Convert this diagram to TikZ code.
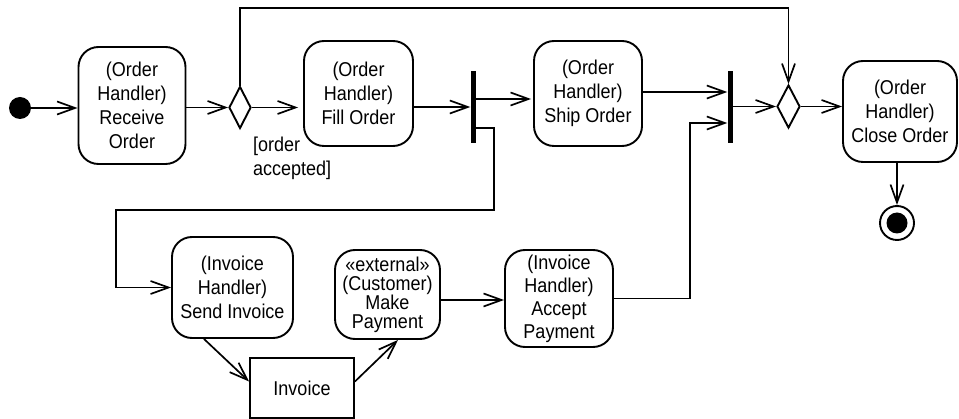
\documentclass[tikz,border=0pt]{standalone}
\usepackage{fontspec}
\setmainfont[FakeStretch=0.9]{Liberation Sans}
\usetikzlibrary{arrows.meta,shapes.geometric}
\begin{document}
\begin{tikzpicture}[x=1pt,y=-1pt,
  act/.style={draw,rounded corners=20pt,line width=1.9pt,inner sep=0pt,align=center,
              font=\fontsize{20}{24}\selectfont},
  objbox/.style={draw,line width=1.9pt,inner sep=0pt,font=\fontsize{20}{24}\selectfont},
  bar/.style={fill,inner sep=0pt,minimum width=5pt,minimum height=72pt},
  decision/.style={diamond,draw,line width=1.9pt,inner sep=0pt,minimum width=22pt,minimum height=42pt},
  flow/.style={line width=1.7pt,-{Straight Barb[length=18pt,width=13pt]}},
  guard/.style={inner sep=0pt,align=left,font=\fontsize{20}{24}\selectfont},
]
\useasboundingbox (0,0) rectangle (959,419);

% order handling row
\node[circle,fill,minimum size=22pt,inner sep=0pt] (init) at (20,108) {};
\node[act,minimum width=107pt,minimum height=117pt] (recv) at (132,105.5) {(Order\\Handler)\\Receive\\Order};
\node[decision] (d1) at (240,107.5) {};
\node[act,minimum width=109pt,minimum height=105pt] (fill) at (358.5,93.5) {(Order\\Handler)\\Fill Order};
\node[bar] (fork) at (473,107) {};
\node[act,minimum width=108pt,minimum height=105pt] (ship) at (588,93.5) {(Order\\Handler)\\Ship Order};
\node[bar] (join) at (730,107) {};
\node[decision,minimum width=23pt,minimum height=43pt] (d2) at (788.5,106.5) {};
\node[act,minimum width=114pt,minimum height=101pt] (close) at (900,111.5) {(Order\\Handler)\\Close Order};
\node[circle,draw,line width=1.9pt,minimum size=34pt,inner sep=0pt] (final) at (897,223) {};
\node[circle,fill,minimum size=21pt,inner sep=0pt] at (final) {};

\node[guard,anchor=north west] (acc) at (253,137) {[order\\accepted]};

% invoice handling row
\node[act,minimum width=121pt,minimum height=101pt] (send) at (232.5,287.5) {(Invoice\\Handler)\\Send Invoice};
\node[act,minimum width=105pt,minimum height=89pt,font=\fontsize{20}{19}\selectfont] (pay) at (387.5,294.5) {«external»\\(Customer)\\Make\\Payment};
\node[objbox,minimum width=104pt,minimum height=60pt] (inv) at (302,388) {Invoice};
\node[act,minimum width=108pt,minimum height=97pt,font=\fontsize{20}{23}\selectfont] (accpay) at (559,298.5) {(Invoice\\Handler)\\Accept\\Payment};

\coordinate (top) at (0,8);

% control flows
\draw[flow] (init) -- (recv.west |- init);
\draw[flow] (recv.east |- d1) -- (d1.west);
\draw[flow,shorten >=5pt] (d1.east) -- (fill.west |- d1);
\draw[flow] (d1.north) -- (d1.north |- top) -| (d2.north);
\draw[flow] (fill.east |- fork) -- (fork.west);
\draw[flow,shorten >=2pt] (fork.east |- 0,99) -- (ship.west |- 0,99);
\draw[flow] (fork.east |- 0,128) -- (494,128) -- (494,210) -- (116,210) |- (send.west);
\draw[flow] (ship.east |- 0,92) -- (join.west |- 0,92);
\draw[flow] (accpay.east) -| (690,123) -- (join.west |- 0,123);
\draw[flow] (join.east |- d2) -- (d2.west);
\draw[flow] (d2.east) -- (close.west |- d2);
\draw[flow] (final |- close.south) -- (final.north);

% object flows and payment
\draw[flow] (send.241) -- (inv.173);
\draw[flow] (inv.7) -- (pay.283);
\draw[flow] (pay.east |- 0,300) -- (accpay.west |- 0,300);
\end{tikzpicture}
\end{document}
